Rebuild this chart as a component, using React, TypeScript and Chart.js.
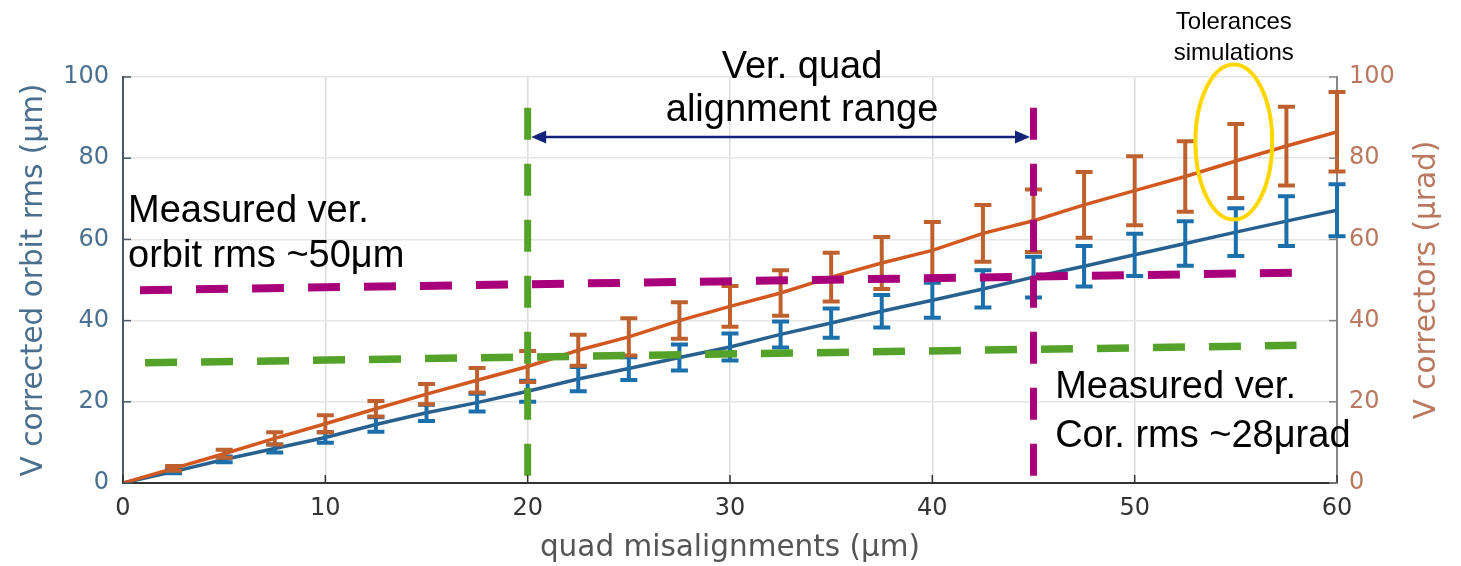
import { useEffect, useRef } from "react";
import { Chart, registerables } from "chart.js";

Chart.register(...registerables);

// ---- data ----
const misalignments = [0, 2.5, 5, 7.5, 10, 12.5, 15, 17.5, 20, 22.5, 25, 27.5, 30, 32.5, 35, 37.5, 40, 42.5, 45, 47.5, 50, 52.5, 55, 57.5, 60];
const orbitRms = [0, 2.8, 5.8, 8.5, 11.2, 14.4, 17.3, 19.8, 22.6, 25.6, 28.2, 30.9, 33.5, 36.6, 39.4, 42.3, 45.0, 47.8, 50.7, 53.4, 56.2, 59.0, 61.8, 64.5, 67.2];
const orbitRmsErr = [0, 0.4, 0.7, 1.0, 1.3, 1.8, 2.0, 2.2, 2.6, 3.0, 2.8, 3.2, 3.3, 3.2, 3.6, 4.0, 4.3, 4.6, 5.0, 5.0, 5.2, 5.5, 5.9, 6.1, 6.4];
const correctorRms = [0, 3.6, 7.2, 11.0, 14.6, 18.3, 21.9, 25.3, 28.7, 32.7, 36.0, 40.0, 43.5, 46.8, 50.7, 54.2, 57.3, 61.5, 64.6, 68.5, 72.0, 75.5, 79.3, 83.0, 86.5];
const correctorRmsErr = [0, 0.6, 1.0, 1.5, 2.1, 1.9, 2.5, 3.0, 3.8, 3.8, 4.6, 4.5, 5.0, 5.6, 6.0, 6.4, 7.0, 7.0, 7.7, 8.1, 8.5, 8.7, 9.1, 9.7, 9.8];

const xTickStep = 10;
const yTickStep = 20;
const xRange = [0, 60];
const yRange = [0, 100];

// measured levels (dashed annotation lines)
const measuredOrbitX = [0.84, 57.8];
const measuredOrbitY = [47.5, 51.8];
const measuredCorX = [1.09, 58.0];
const measuredCorY = [29.6, 33.9];
const rangeStartX = [20, 20];
const rangeEndX = [45, 45];
const rangeLineY = [92.4, 0];
const rangeArrowY = 85.2;

// tolerance highlight ellipse (data units)
const ellipseCenter = [54.9, 84.0];
const ellipseRadius = [1.9, 19.1];

const texts = {
  rangeTitle: ["Ver. quad", "alignment range"],
  orbitNote: ["Measured ver.", "orbit rms ~50\u03BCm"],
  corNote: ["Measured ver.", "Cor. rms ~28\u03BCrad"],
  tolNote: ["Tolerances", "simulations"],
};
// anchor positions in data units
const rangeTitleAt = [33.56, 99.75, 89.2];
const orbitNoteAt = [0.25, 64.3, 53.2];
const corNoteAt = [46.07, 20.9, 8.9];
const tolNoteAt = [54.9, 111.8, 104.2];

const BLUE = "#28618f";
const BLUE_ERR = "#1b6faa";
const ORANGE = "#d2581f";
const ORANGE_ERR = "#bf612f";
const MAGENTA = "#a8007a";
const GREEN = "#55a22a";
const NAVY = "#14237a";
const LEFT_AXIS = "#4b6f8f";
const RIGHT_AXIS = "#b9785f";
const ANNOT_FONT = "'Liberation Sans', Arial, sans-serif";
const AXIS_FONT = "'DejaVu Sans', sans-serif";

const pts = (xs: number[], ys: number[]) => xs.map((x, i) => ({ x, y: ys[i] }));

const overlayPlugin = {
  id: "overlay",
  afterDatasetDraw(chart: any, args: any) {
    let vals: number[] | null = null;
    let errs: number[] = [];
    let color = "";
    let scaleId = "y";
    if (args.index === 0) { vals = orbitRms; errs = orbitRmsErr; color = BLUE_ERR; scaleId = "y"; }
    else if (args.index === 1) { vals = correctorRms; errs = correctorRmsErr; color = ORANGE_ERR; scaleId = "y2"; }
    if (!vals) return;
    const ctx = chart.ctx;
    const xs = chart.scales.x;
    const ys = chart.scales[scaleId];
    ctx.save();
    ctx.strokeStyle = color;
    ctx.lineWidth = 4;
    ctx.lineCap = "butt";
    for (let i = 0; i < vals.length; i++) {
      if (errs[i] <= 0) continue;
      const px = xs.getPixelForValue(misalignments[i]);
      const top = ys.getPixelForValue(vals[i] + errs[i]);
      const bot = ys.getPixelForValue(vals[i] - errs[i]);
      ctx.beginPath();
      ctx.moveTo(px, top); ctx.lineTo(px, bot);
      ctx.moveTo(px - 8.5, top); ctx.lineTo(px + 8.5, top);
      ctx.moveTo(px - 8.5, bot); ctx.lineTo(px + 8.5, bot);
      ctx.stroke();
    }
    ctx.restore();
  },
  afterDraw(chart: any) {
    const ctx = chart.ctx;
    const xs = chart.scales.x;
    const ys = chart.scales.y;
    const y2 = chart.scales.y2;
    const area = chart.chartArea;
    ctx.save();
    // inward tick marks
    ctx.lineWidth = 1.5;
    ctx.strokeStyle = "#333";
    xs.ticks.forEach((t: any) => {
      const p = xs.getPixelForValue(t.value);
      ctx.beginPath(); ctx.moveTo(p, area.bottom); ctx.lineTo(p, area.bottom - 8); ctx.stroke();
    });
    ctx.strokeStyle = "#4a5866";
    ys.ticks.forEach((t: any) => {
      const p = ys.getPixelForValue(t.value);
      ctx.beginPath(); ctx.moveTo(area.left, p); ctx.lineTo(area.left + 8, p); ctx.stroke();
    });
    ctx.strokeStyle = "#888";
    y2.ticks.forEach((t: any) => {
      const p = y2.getPixelForValue(t.value);
      ctx.beginPath(); ctx.moveTo(area.right, p); ctx.lineTo(area.right - 8, p); ctx.stroke();
    });

    // double arrow for alignment range
    const ay = ys.getPixelForValue(rangeArrowY);
    const ax1 = xs.getPixelForValue(rangeStartX[0]) + 3.5;
    const ax2 = xs.getPixelForValue(rangeEndX[0]) - 3.5;
    ctx.strokeStyle = NAVY;
    ctx.fillStyle = NAVY;
    ctx.lineWidth = 2.5;
    ctx.beginPath(); ctx.moveTo(ax1 + 10, ay); ctx.lineTo(ax2 - 10, ay); ctx.stroke();
    ctx.beginPath(); ctx.moveTo(ax1, ay); ctx.lineTo(ax1 + 15, ay - 6.5); ctx.lineTo(ax1 + 15, ay + 6.5); ctx.closePath(); ctx.fill();
    ctx.beginPath(); ctx.moveTo(ax2, ay); ctx.lineTo(ax2 - 15, ay - 6.5); ctx.lineTo(ax2 - 15, ay + 6.5); ctx.closePath(); ctx.fill();

    // ellipse
    const ecx = xs.getPixelForValue(ellipseCenter[0]);
    const ecy = ys.getPixelForValue(ellipseCenter[1]);
    const erx = Math.abs(xs.getPixelForValue(ellipseCenter[0] + ellipseRadius[0]) - ecx);
    const ery = Math.abs(ys.getPixelForValue(ellipseCenter[1] + ellipseRadius[1]) - ecy);
    ctx.strokeStyle = "#FFD700";
    ctx.lineWidth = 4;
    ctx.beginPath(); ctx.ellipse(ecx, ecy, erx, ery, 0, 0, Math.PI * 2); ctx.stroke();

    // text annotations
    ctx.fillStyle = "#000";
    ctx.textBaseline = "alphabetic";
    ctx.font = `38px ${ANNOT_FONT}`;
    ctx.textAlign = "center";
    ctx.fillText(texts.rangeTitle[0], xs.getPixelForValue(rangeTitleAt[0]), ys.getPixelForValue(rangeTitleAt[1]));
    ctx.fillText(texts.rangeTitle[1], xs.getPixelForValue(rangeTitleAt[0]), ys.getPixelForValue(rangeTitleAt[2]));
    ctx.textAlign = "left";
    ctx.fillText(texts.orbitNote[0], xs.getPixelForValue(orbitNoteAt[0]), ys.getPixelForValue(orbitNoteAt[1]));
    ctx.fillText(texts.orbitNote[1], xs.getPixelForValue(orbitNoteAt[0]), ys.getPixelForValue(orbitNoteAt[2]));
    ctx.fillText(texts.corNote[0], xs.getPixelForValue(corNoteAt[0]), ys.getPixelForValue(corNoteAt[1]));
    ctx.fillText(texts.corNote[1], xs.getPixelForValue(corNoteAt[0]), ys.getPixelForValue(corNoteAt[2]));
    ctx.font = `24px ${ANNOT_FONT}`;
    ctx.textAlign = "center";
    ctx.fillText(texts.tolNote[0], xs.getPixelForValue(tolNoteAt[0]), ys.getPixelForValue(tolNoteAt[1]));
    ctx.fillText(texts.tolNote[1], xs.getPixelForValue(tolNoteAt[0]), ys.getPixelForValue(tolNoteAt[2]));

    // right axis title (reads bottom-to-top)
    ctx.save();
    ctx.translate(1427, (area.top + area.bottom) / 2);
    ctx.rotate(-Math.PI / 2);
    ctx.font = `29.5px ${AXIS_FONT}`;
    ctx.fillStyle = RIGHT_AXIS;
    ctx.textAlign = "center";
    ctx.textBaseline = "middle";
    ctx.fillText("V correctors (\u03BCrad)", 0, 0);
    ctx.restore();

    ctx.restore();
  },
};

export default function App() {
  const ref = useRef<HTMLCanvasElement | null>(null);
  useEffect(() => {
    if (!ref.current) return;
    const chart = new Chart(ref.current, {
      type: "line",
      data: {
        datasets: [
          { label: "V corrected orbit rms", data: pts(misalignments, orbitRms), yAxisID: "y", borderColor: BLUE, borderWidth: 3.5, pointRadius: 0, order: 3 },
          { label: "V correctors", data: pts(misalignments, correctorRms), yAxisID: "y2", borderColor: ORANGE, borderWidth: 3.5, pointRadius: 0, order: 2 },
          { label: "Measured orbit", data: pts(measuredOrbitX, measuredOrbitY), yAxisID: "y", borderColor: MAGENTA, borderWidth: 8, borderDash: [32, 24], borderCapStyle: "butt", pointRadius: 0, order: 1 },
          { label: "Measured correctors", data: pts(measuredCorX, measuredCorY), yAxisID: "y", borderColor: GREEN, borderWidth: 7.5, borderDash: [32, 24], borderCapStyle: "butt", pointRadius: 0, order: 1 },
          { label: "Range start", data: pts(rangeStartX, rangeLineY), yAxisID: "y", borderColor: GREEN, borderWidth: 7, borderDash: [32, 24], borderCapStyle: "butt", pointRadius: 0, order: 1 },
          { label: "Range end", data: pts(rangeEndX, rangeLineY), yAxisID: "y", borderColor: MAGENTA, borderWidth: 7, borderDash: [32, 24], borderCapStyle: "butt", pointRadius: 0, order: 1 },
        ],
      },
      options: {
        animation: false,
        responsive: false,
        maintainAspectRatio: false,
        layout: { padding: { top: 77, left: 0, right: 0, bottom: 0 } },
        plugins: { legend: { display: false }, tooltip: { enabled: false } },
        scales: {
          x: {
            type: "linear",
            min: xRange[0],
            max: xRange[1],
            ticks: { stepSize: xTickStep, color: "#333", font: { family: AXIS_FONT, size: 24 }, padding: 11, maxRotation: 0 },
            grid: { color: "#dcdcdc", lineWidth: 1.5, drawTicks: false },
            border: { color: "#333", width: 2 },
            title: { display: true, text: "quad misalignments (\u03BCm)", color: "#555", font: { family: AXIS_FONT, size: 29.5 }, padding: { top: 0, bottom: 0 } },
            afterFit: (s: any) => { s.height = 83; },
          },
          y: {
            position: "left",
            min: yRange[0],
            max: yRange[1],
            ticks: { stepSize: yTickStep, color: LEFT_AXIS, font: { family: AXIS_FONT, size: 24 }, padding: 14 },
            grid: { color: "#e6e6e6", lineWidth: 1.5, drawTicks: false },
            border: { color: "#4a5866", width: 2 },
            title: { display: true, text: "V corrected orbit rms (\u03BCm)", color: LEFT_AXIS, font: { family: AXIS_FONT, size: 29.5 }, padding: { top: 17, bottom: 0 } },
            afterFit: (s: any) => { s.width = 123; },
          },
          y2: {
            position: "right",
            min: yRange[0],
            max: yRange[1],
            ticks: { stepSize: yTickStep, color: RIGHT_AXIS, font: { family: AXIS_FONT, size: 24 }, padding: 12 },
            grid: { display: false, drawTicks: false },
            border: { color: "#888", width: 2 },
            afterFit: (s: any) => { s.width = 124; },
          },
        },
      },
      plugins: [overlayPlugin],
    } as any);
    return () => chart.destroy();
  }, []);
  return (
    <div style={{ position: "fixed", left: 0, top: 0, width: 1461, height: 566, background: "#fff" }}>
      <canvas ref={ref} width={1461} height={566} />
    </div>
  );
}
